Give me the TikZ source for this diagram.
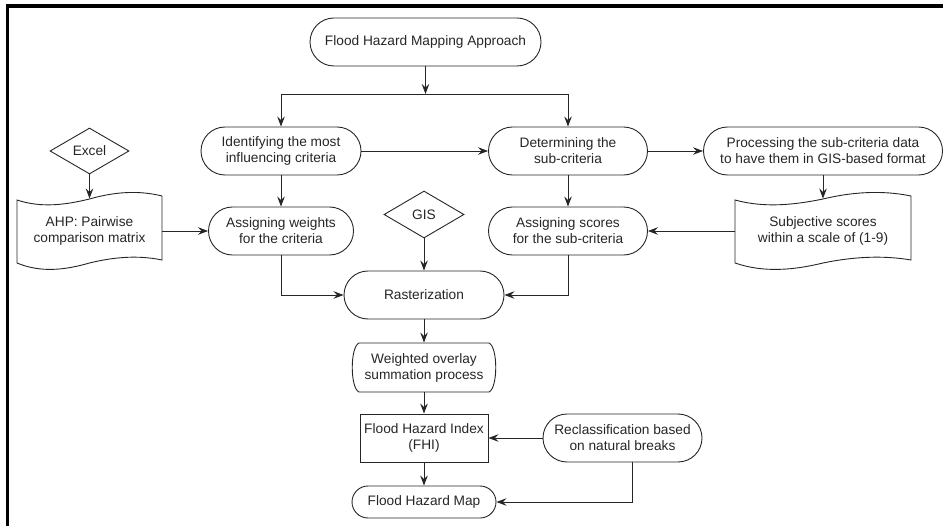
\documentclass[tikz,border=0pt]{standalone}
\usepackage{fontspec}
\setmainfont{Liberation Sans}
\usetikzlibrary{arrows.meta,shapes.geometric,calc}
\begin{document}
\begin{tikzpicture}[x=1bp,y=-1bp,line width=0.9bp,draw=black!85,
  every node/.style={font=\fontsize{13.7bp}{16bp}\selectfont, align=center, inner sep=1bp, text=black!85},
  stad/.style={draw, rounded corners=24bp, minimum height=48bp},
  dia/.style={draw, diamond, inner sep=0pt},
  arr/.style={-{Stealth[length=10bp,width=7.5bp,inset=3.5bp]}}
]
\useasboundingbox (0,0) rectangle (943,526);
\draw[line width=3.5bp,draw=black] (7.5,526) -- (7.5,6) -- (943,6);

\node[stad, minimum width=231bp] (top) at (425.5,42) {Flood Hazard Mapping Approach};
\node[stad, minimum width=160bp] (ident) at (281,151) {Identifying the most\\influencing criteria};
\node[stad, minimum width=159bp] (det) at (568,151) {Determining the\\sub-criteria};
\node[stad, minimum width=239bp] (proc) at (823,151) {Processing the sub-criteria data\\to have them in GIS-based format};
\node[dia, minimum width=79bp, minimum height=46bp] (excel) at (89.5,151) {Excel};
\node[minimum width=145bp, minimum height=64bp] (ahp) at (89.5,231) {AHP: Pairwise\\comparison matrix};
\node[stad, minimum width=145bp] (wts) at (281,231) {Assigning weights\\for the criteria};
\node[dia, minimum width=80bp, minimum height=47bp] (gis) at (424,214.5) {GIS};
\node[stad, minimum width=159bp] (scores) at (568,231) {Assigning scores\\for the sub-criteria};
\node[minimum width=176bp, minimum height=64bp] (subj) at (823,231) {Subjective scores\\within a scale of (1-9)};
\node[stad, minimum width=160bp] (rast) at (424,295) {Rasterization};
\node[minimum width=145bp, minimum height=49bp] (wov) at (424,367.5) {Weighted overlay\\summation process};
\node[draw, minimum width=128bp, minimum height=48bp] (fhi) at (424,438) {Flood Hazard Index\\(FHI)};
\node[stad, minimum width=159bp] (recl) at (622.5,438) {Reclassification based\\on natural breaks};
\node[draw, rounded corners=16bp, minimum width=144bp, minimum height=32bp] (map) at (424,502) {Flood Hazard Map};

% tape shapes
\draw (17,200) .. controls (41,208) and (65,205) .. (89.5,199) .. controls (114,192) and (138,190) .. (162,196)
  -- (162,260) .. controls (138,255) and (114,257) .. (89.5,263) .. controls (65,270) and (41,273) .. (17,263) -- cycle;
\draw (735,200) .. controls (764,208) and (794,205) .. (823,199) .. controls (852,192) and (882,190) .. (911,196)
  -- (911,260) .. controls (882,255) and (852,257) .. (823,263) .. controls (794,270) and (764,273) .. (735,263) -- cycle;
% weighted overlay shape
\draw (359,343) -- (489,343) .. controls (498,347) and (498,388) .. (489,392) -- (359,392)
  .. controls (350,388) and (350,347) .. (359,343) -- cycle;

\coordinate (split) at (425.5,94);
\draw[arr] (top.south) -- (split);
\draw (ident.north |- split) -- (det.north |- split);
\draw[arr] (ident.north |- split) -- (ident.north);
\draw[arr] (det.north |- split) -- (det.north);
\draw[arr] (ident) -- (det);
\draw[arr] (det) -- (proc);
\draw[arr] (excel) -- (ahp);
\draw[arr] (ident) -- (wts);
\draw[arr] (ahp.east) -- (wts.west);
\draw[arr] (det) -- (scores);
\draw[arr] (proc) -- (subj);
\draw[arr] (subj.west) -- (scores.east);
\draw[arr] (gis) -- (rast);
\draw[arr] (wts.south) |- (rast.west);
\draw[arr] (scores.south) |- (rast.east);
\draw[arr] (rast) -- (wov);
\draw[arr] (wov) -- (fhi);
\draw[arr] (recl) -- (fhi);
\draw[arr] (fhi) -- (map);
\draw[arr] ([xshift=9.5bp]recl.south) |- (map.east);
\end{tikzpicture}
\end{document}
